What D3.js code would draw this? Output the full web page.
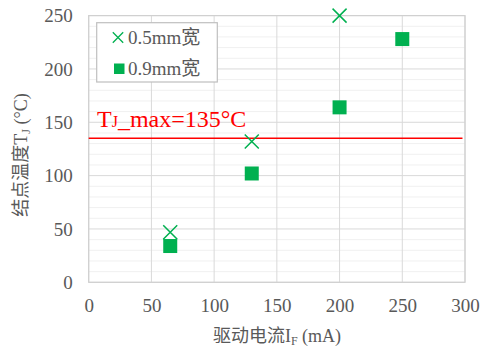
<!DOCTYPE html>
<html>
<head>
<meta charset="utf-8">
<script src="https://cdn.jsdelivr.net/npm/d3@7"></script>
<style>
  html, body { margin: 0; padding: 0; background: #fff; }
  svg { display: block; }
  svg text { font-family: 'Liberation Serif', 'Times New Roman', 'Noto Sans CJK SC', serif; }
</style>
</head>
<body>
<svg id="chart" width="485" height="349"></svg>
<script>
// Drive current (mA) and junction temperature (°C) for two trace widths
const current05 = [65, 130, 200];
const temp05 = [47, 132, 250];
const current09 = [65, 130, 200, 250];
const temp09 = [34, 102, 164, 228];
const tjMax = 135;
const tjMaxSpan = [0, 298];
const xTicks = [0, 50, 100, 150, 200, 250, 300];
const yTicks = [0, 50, 100, 150, 200, 250];
const yMinorTicks = d3.range(0, 251, 10);
const seriesNames = ["0.5mm宽", "0.9mm宽"];

const green = "#00b050";
const serif = "'Liberation Serif', 'Times New Roman', 'Noto Sans CJK SC', serif";
const svg = d3.select("#chart");
const m = { left: 88.7, right: 465, top: 15.6, bottom: 282.3 };

const x = d3.scaleLinear().domain([0, 300]).range([m.left, m.right]);
const y = d3.scaleLinear().domain([0, 250]).range([m.bottom, m.top]);

// minor horizontal grid
svg.append("g")
  .selectAll("line")
  .data(yMinorTicks.filter(d => d % 50 !== 0))
  .join("line")
  .attr("x1", m.left).attr("x2", m.right)
  .attr("y1", d => y(d)).attr("y2", d => y(d))
  .attr("stroke", "#f0f0f0").attr("stroke-width", 1);

// major grid lines
svg.append("g")
  .selectAll("line")
  .data(yTicks)
  .join("line")
  .attr("x1", m.left).attr("x2", m.right)
  .attr("y1", d => y(d)).attr("y2", d => y(d))
  .attr("stroke", "#d9d9d9").attr("stroke-width", 1);
svg.append("g")
  .selectAll("line")
  .data(xTicks)
  .join("line")
  .attr("y1", m.top).attr("y2", m.bottom)
  .attr("x1", d => x(d)).attr("x2", d => x(d))
  .attr("stroke", "#d9d9d9").attr("stroke-width", 1);

// plot frame
svg.append("rect")
  .attr("x", m.left).attr("y", m.top)
  .attr("width", m.right - m.left).attr("height", m.bottom - m.top)
  .attr("fill", "none").attr("stroke", "#d0d0d0").attr("stroke-width", 1.2);

// axes (labels only)
const xAxis = svg.append("g")
  .attr("transform", `translate(0,${m.bottom})`)
  .call(d3.axisBottom(x).tickValues(xTicks).tickSize(0).tickPadding(16))
  .attr("font-family", serif).attr("font-size", 19);
xAxis.select(".domain").remove();
xAxis.selectAll("text").attr("fill", "#595959");

const yAxis = svg.append("g")
  .attr("transform", `translate(${m.left},0)`)
  .call(d3.axisLeft(y).tickValues(yTicks).tickSize(0).tickPadding(16))
  .attr("font-family", serif).attr("font-size", 19);
yAxis.select(".domain").remove();
yAxis.selectAll("text").attr("fill", "#595959");

// Tj max reference line
svg.append("line")
  .attr("x1", x(tjMaxSpan[0])).attr("x2", x(tjMaxSpan[1]))
  .attr("y1", y(tjMax)).attr("y2", y(tjMax))
  .attr("stroke", "#ff0000").attr("stroke-width", 1.5);

const tjLabel = svg.append("text")
  .attr("x", 97).attr("y", 127)
  .attr("fill", "#ff0000")
  .style("font-size", "24px");
tjLabel.append("tspan").text("T");
tjLabel.append("tspan").style("font-size", "16px").text("J");
tjLabel.append("tspan").text(`_max=${tjMax}°C`);

// marker shapes
function cross(g, cx, cy, r, w) {
  g.append("path")
    .attr("d", `M${cx - r},${cy - r}L${cx + r},${cy + r}M${cx - r},${cy + r}L${cx + r},${cy - r}`)
    .attr("stroke", green).attr("stroke-width", w).attr("fill", "none");
}

const s09 = svg.append("g");
s09.selectAll("rect")
  .data(current09.map((c, i) => [c, temp09[i]]))
  .join("rect")
  .attr("x", d => x(d[0]) - 7).attr("y", d => y(d[1]) - 7)
  .attr("width", 14).attr("height", 14)
  .attr("fill", green);

const s05 = svg.append("g");
current05.forEach((c, i) => cross(s05, x(c), y(temp05[i]), 7, 1.5));

// legend
const lg = svg.append("g");
lg.append("rect")
  .attr("x", 96.7).attr("y", 22.7).attr("width", 120.6).attr("height", 59.3)
  .attr("fill", "#fff").attr("stroke", "#bfbfbf").attr("stroke-width", 1.2);
cross(lg, 118, 37.5, 5.2, 1.3);
lg.append("rect").attr("x", 114).attr("y", 63.5).attr("width", 10.5).attr("height", 10.5).attr("fill", green);
lg.selectAll("text.lt")
  .data(seriesNames)
  .join("text")
  .attr("class", "lt")
  .attr("x", 128)
  .attr("y", (d, i) => 44 + i * 30.5)
  .attr("fill", "#595959")
  .style("font-size", "19px")
  .text(d => d);

// axis titles
const xt = svg.append("text")
  .attr("x", 277).attr("y", 342)
  .attr("text-anchor", "middle")
  .attr("fill", "#595959")
  .style("font-size", "18px");
xt.append("tspan").text("驱动电流I");
xt.append("tspan").style("font-size", "12px").attr("dy", 3).text("F");
xt.append("tspan").attr("dy", -3).text(" (mA)");

const yt = svg.append("text")
  .attr("transform", "translate(27,155) rotate(-90)")
  .attr("text-anchor", "middle")
  .attr("fill", "#595959")
  .style("font-size", "18px");
yt.append("tspan").text("结点温度T");
yt.append("tspan").style("font-size", "12px").attr("dy", 3).text("J");
yt.append("tspan").attr("dy", -3).text(" (°C)");
</script>
</body>
</html>
